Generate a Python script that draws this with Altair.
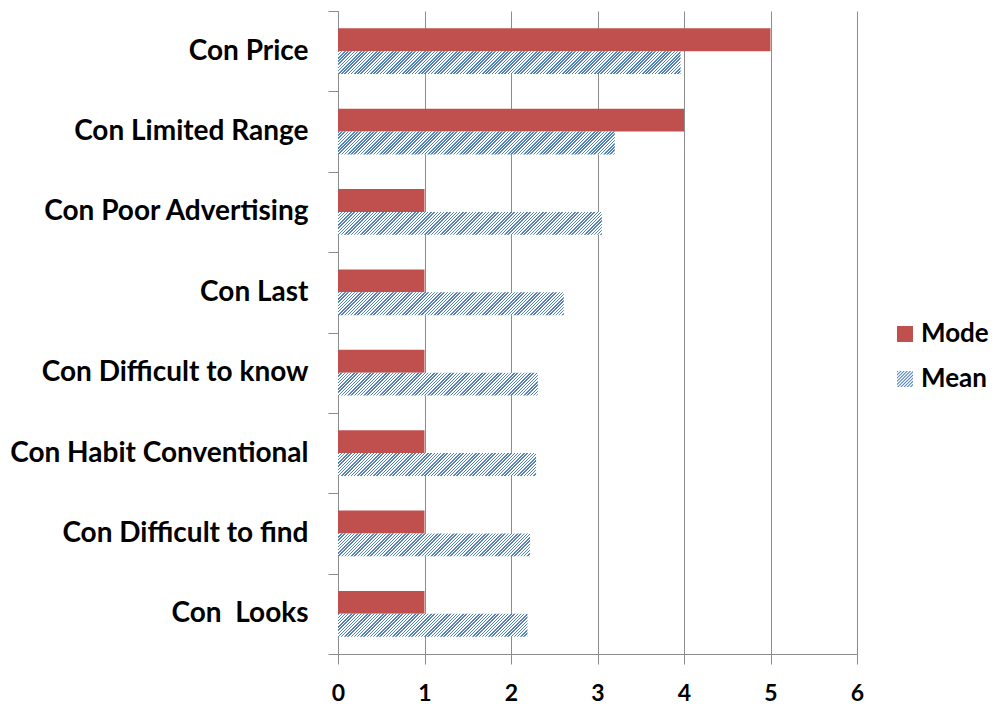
import altair as alt
import pandas as pd

# ---------------- data ----------------
categories = [
    "Con Price",
    "Con Limited Range",
    "Con Poor Advertising",
    "Con Last",
    "Con Difficult to know",
    "Con Habit Conventional",
    "Con Difficult to find",
    "Con  Looks",
]
mode_values = [5, 4, 1, 1, 1, 1, 1, 1]
mean_values = [3.96, 3.20, 3.05, 2.61, 2.31, 2.29, 2.22, 2.19]
series_names = ["Mode", "Mean"]
x_ticks = [0, 1, 2, 3, 4, 5, 6]

# ---------------- style ----------------
RED = "#C0504D"
BLUE = "#4F81BD"
GRAY = "#8C8C8C"
FONT = "Lato"
PLOT_W, PLOT_H = 519, 643
X_MAX = 6
OFF_PAD = 0.755          # outer padding of the Mode/Mean offset scale
HATCH_PERIOD = 3.2       # px, measured along x
HATCH_FRAC = 0.45        # share of each period that is blue

rows = []
for c, m, a in zip(categories, mode_values, mean_values):
    rows.append({"category": c, "series": "Mode", "value": m})
    rows.append({"category": c, "series": "Mean", "value": a})
df = pd.DataFrame(rows)

step = PLOT_H / len(categories)
bar_h = step / (2 + 2 * OFF_PAD)


def hatch_gradient(w, h, period=HATCH_PERIOD):
    # bbox-relative linear gradient whose iso-lines run at 45 degrees ("/")
    k = (w + h) * w / (w * w + h * h)
    dt = period / (w + h)
    stops = []
    t = 0.0
    while t < 1.0:
        a = t
        b = min(t + dt * HATCH_FRAC, 1.0)
        c = min(t + dt, 1.0)
        stops += [
            {"color": BLUE, "offset": round(a, 6)},
            {"color": BLUE, "offset": round(b, 6)},
            {"color": "#ffffff", "offset": round(b, 6)},
            {"color": "#ffffff", "offset": round(c, 6)},
        ]
        t += dt
    return {"gradient": "linear", "x1": 0, "y1": 0, "x2": k, "y2": k * h / w, "stops": stops}


def clip(poly, a, b, c):
    # keep a*x + b*y <= c
    out = []
    n = len(poly)
    for i in range(n):
        p, q = poly[i], poly[(i + 1) % n]
        fp = a * p[0] + b * p[1] - c
        fq = a * q[0] + b * q[1] - c
        if fp <= 0:
            out.append(p)
        if fp * fq < 0:
            s = fp / (fp - fq)
            out.append((p[0] + s * (q[0] - p[0]), p[1] + s * (q[1] - p[1])))
    return out


def stripe_path(n_period=0.4):
    sq = [(-1, -1), (1, -1), (1, 1), (-1, 1)]
    parts = []
    c1 = -2.0
    while c1 < 2.0:
        c2 = c1 + n_period * HATCH_FRAC
        poly = clip(clip(sq, 1, 1, c2), -1, -1, -c1)
        if len(poly) >= 3:
            parts.append("M" + " L".join(f"{x:.3f},{y:.3f}" for x, y in poly) + " Z")
        c1 += n_period
    return " ".join(parts)


y_enc = alt.Y(
    "category:N",
    sort=categories,
    scale=alt.Scale(domain=categories, paddingInner=0, paddingOuter=0),
    axis=alt.Axis(
        title=None,
        tickBand="extent",
        tickSize=10,
        tickColor=GRAY,
        domainColor=GRAY,
        labelFont=FONT,
        labelFontWeight="bold",
        labelFontSize=28,
        labelColor="black",
        labelPadding=20,
        labelLimit=500,
        grid=False,
        labelExpr="replace(datum.label, '  ', ' \u00a0')",
    ),
)
yoff_enc = alt.YOffset(
    "series:N",
    sort=series_names,
    scale=alt.Scale(domain=series_names, paddingInner=0, paddingOuter=OFF_PAD),
)
x_enc = alt.X(
    "value:Q",
    scale=alt.Scale(domain=[0, X_MAX], nice=False),
    axis=alt.Axis(
        title=None,
        values=x_ticks,
        format="d",
        grid=True,
        gridColor=GRAY,
        gridWidth=1,
        tickSize=10,
        tickColor=GRAY,
        domainColor=GRAY,
        labelFont=FONT,
        labelFontWeight="bold",
        labelFontSize=23,
        labelColor="black",
        labelPadding=18,
        labelFlush=False,
    ),
)

legend = alt.Legend(
    title=None,
    orient="none",
    legendX=554,
    legendY=310,
    symbolSize=256,
    symbolStrokeWidth=0,
    symbolOpacity=1,
    labelFont=FONT,
    labelFontWeight="bold",
    labelFontSize=26,
    labelColor="black",
    labelOffset=3,
    rowPadding=19,
)

legend_layer = alt.Chart(df).mark_point(filled=True, opacity=0, size=256).encode(
    x=x_enc,
    y=y_enc,
    yOffset=yoff_enc,
    color=alt.Color("series:N", scale=alt.Scale(domain=series_names, range=[RED, BLUE]), legend=legend),
    shape=alt.Shape("series:N", scale=alt.Scale(domain=series_names, range=["square", stripe_path()]), legend=legend),
)

mode_layer = alt.Chart(df).transform_filter(alt.datum.series == "Mode").mark_bar(color=RED).encode(
    x=x_enc, y=y_enc, yOffset=yoff_enc
)

layers = [legend_layer, mode_layer]
for c, a in zip(categories, mean_values):
    w = a * PLOT_W / X_MAX
    layers.append(
        alt.Chart(df)
        .transform_filter((alt.datum.series == "Mean") & (alt.datum.category == c))
        .mark_bar(fill=hatch_gradient(w, bar_h), strokeWidth=0)
        .encode(x=x_enc, y=y_enc, yOffset=yoff_enc)
    )

chart = (
    alt.layer(*layers)
    .properties(
        width=PLOT_W,
        height=PLOT_H,
        autosize=alt.AutoSizeParams(type="none"),
        padding={"left": 338, "top": 11, "right": 143, "bottom": 54},
        background="white",
    )
    .configure_view(stroke=None)
)

chart.save("out.html", embed_options={"renderer": "svg", "actions": False})
